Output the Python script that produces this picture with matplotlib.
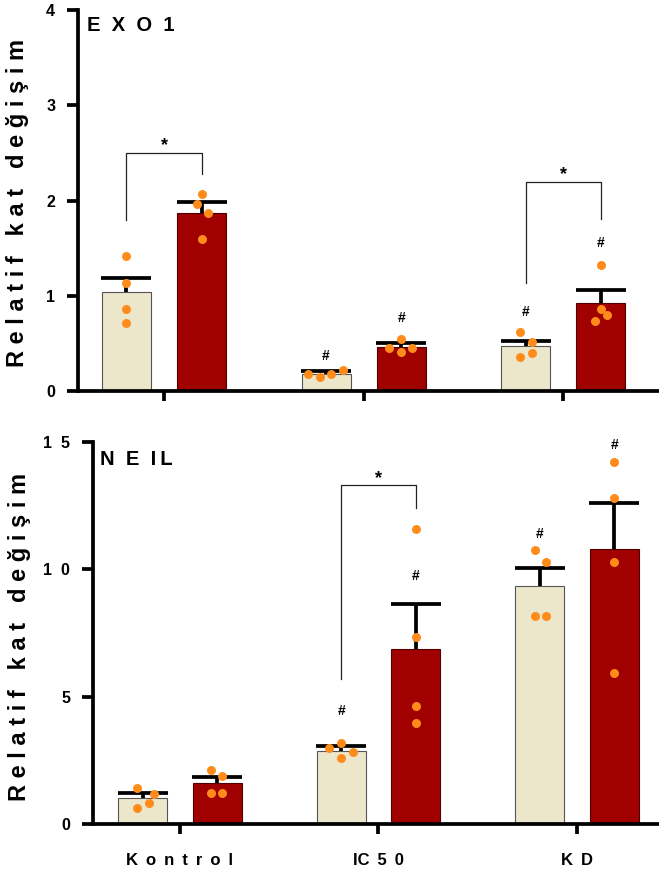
import numpy as np
import matplotlib.pyplot as plt

plt.rcParams['font.family'] = ['Liberation Sans', 'DejaVu Sans']
plt.rcParams['font.weight'] = 'bold'

T = "\u2009"  # thin space for letter spacing
groups = [f"K {T}o {T}n {T}t {T}r {T}o {T}l", f"IC {T}5 {T}0", f"K {T}D"]

# EXO1
exo1_ctrl_mean = [1.04, 0.18, 0.47]
exo1_ctrl_sem = [0.15, 0.03, 0.06]
exo1_treat_mean = [1.87, 0.46, 0.92]
exo1_treat_sem = [0.11, 0.04, 0.14]
exo1_ctrl_pts = [[1.42, 1.13, 0.86, 0.71], [0.18, 0.15, 0.18, 0.22], [0.62, 0.51, 0.40, 0.36]]
exo1_treat_pts = [[2.07, 1.96, 1.87, 1.60], [0.55, 0.45, 0.41, 0.45], [1.32, 0.86, 0.80, 0.74]]

# NEIL
neil_ctrl_mean = [1.02, 2.86, 9.34]
neil_ctrl_sem = [0.20, 0.20, 0.70]
neil_treat_mean = [1.61, 6.88, 10.8]
neil_treat_sem = [0.23, 1.75, 1.80]
neil_ctrl_pts = [[1.41, 1.18, 0.82, 0.63], [3.18, 2.98, 2.82, 2.59], [10.75, 10.3, 8.16, 8.16]]
neil_treat_pts = [[2.12, 1.88, 1.22, 1.22], [11.6, 7.33, 4.63, 3.96], [14.2, 12.8, 10.3, 5.92]]

# horizontal spread of the dots (pixels)
exo1_ctrl_jit = [[0, 0, 0, 0], [-18, -6, 5, 17], [-6, 6, 6, -6]]
exo1_treat_jit = [[0, -5, 6, 0], [0, -12, 0, 11], [0, 0, 6, -6]]
neil_ctrl_jit = [[-6, 11, 6, -6], [0, -12, 12, 0], [-5, 6, -5, 6]]
neil_treat_jit = [[-6, 5, -6, 5], [0, 0, 0, 0], [0, 0, 0, 0]]

BEIGE = "#ece6cb"
RED = "#a00000"
DOT = "#ff8c1a"
OFF = 0.188
W = 0.246
PX = 1 / 199.0
LW = 2.7

fig = plt.figure(figsize=(6.59, 8.74), dpi=100)
ax1 = fig.add_axes([78 / 659, 1 - 391 / 874, 1 - 78 / 659, 381 / 874])
ax2 = fig.add_axes([93 / 659, 1 - 824 / 874, 1 - 93 / 659, 382 / 874])


def draw_panel(ax, cm, cs, tm, ts, cp, tp, cj, tj):
    x = np.arange(len(groups))
    for pos, mean, sem, color, edge in [(x - OFF, cm, cs, BEIGE, "#555555"),
                                        (x + OFF, tm, ts, RED, "#500000")]:
        ax.bar(pos, mean, width=W, color=color, edgecolor=edge, linewidth=0.8, zorder=2)
        eb = ax.errorbar(pos, mean, yerr=[np.zeros(len(mean)), sem], fmt="none",
                         ecolor="black", elinewidth=LW, capsize=18, capthick=LW, zorder=3)
        eb[1][0].set_visible(False)
    for i in range(len(groups)):
        for pts, jit, base in [(cp[i], cj[i], i - OFF), (tp[i], tj[i], i + OFF)]:
            ax.scatter(base + np.array(jit) * PX, pts, s=42, color=DOT, zorder=4, linewidths=0)
    for s in ["top", "right"]:
        ax.spines[s].set_visible(False)
    for s in ["left", "bottom"]:
        ax.spines[s].set_linewidth(LW)
    ax.set_xticks(x)
    ax.tick_params(axis="y", length=8, width=LW, pad=8.5, labelsize=11.5)
    ax.tick_params(axis="x", length=7, width=LW)


def bracket(ax, x1, x2, y1, y2, top, dy):
    ax.plot([x1, x1, x2, x2], [y1, top, top, y2], color="#222222", lw=0.9, zorder=1)
    ax.text((x1 + x2) / 2, top + dy, "*", ha="center", va="center", fontsize=13)


def hashes(ax, xs, ys):
    for xx, yy in zip(xs, ys):
        ax.text(xx, yy, "#", ha="center", va="center", fontsize=10)


# EXO1 panel
draw_panel(ax1, exo1_ctrl_mean, exo1_ctrl_sem, exo1_treat_mean, exo1_treat_sem,
           exo1_ctrl_pts, exo1_treat_pts, exo1_ctrl_jit, exo1_treat_jit)
ax1.set_xlim(-0.431, 2.48)
ax1.set_ylim(0, 4)
ax1.set_yticks([0, 1, 2, 3, 4])
ax1.set_xticklabels([])
ax1.text(0.015, 0.96, "E  X  O  1", transform=ax1.transAxes, fontsize=14.5, va="center")
bracket(ax1, -OFF, OFF, 1.80, 2.28, 2.50, 0.08)
bracket(ax1, 2 - OFF, 2 + OFF, 1.13, 1.81, 2.19, 0.08)
hashes(ax1, [1 - OFF, 1 + OFF, 2 - OFF, 2 + OFF], [0.37, 0.77, 0.83, 1.55])

# NEIL panel
draw_panel(ax2, neil_ctrl_mean, neil_ctrl_sem, neil_treat_mean, neil_treat_sem,
           neil_ctrl_pts, neil_treat_pts, neil_ctrl_jit, neil_treat_jit)
ax2.set_xlim(-0.438, 2.413)
ax2.set_ylim(0, 15)
ax2.set_yticks([0, 5, 10, 15])
ax2.set_yticklabels(["0", "5", "1  0", "1  5"])
ax2.set_xticklabels(groups, fontsize=12)
ax2.tick_params(axis="x", pad=14)
ax2.text(0.012, 0.955, f"N  E  I{T}L", transform=ax2.transAxes, fontsize=14.5, va="center")
bracket(ax2, 1 - OFF, 1 + OFF, 5.7, 12.4, 13.3, 0.25)
hashes(ax2, [1 - OFF, 1 + OFF, 2 - OFF, 2 + OFF], [4.43, 9.73, 11.37, 14.9])

ylab = "R e l a t i f   k a t   d e ğ i ş i m"
fig.text(18 / 659, 1 - 203 / 874, ylab, rotation=90, ha="center", va="center", fontsize=17)
fig.text(20 / 659, 1 - 637 / 874, ylab, rotation=90, ha="center", va="center", fontsize=17)

fig.savefig("out.png", dpi=100)
